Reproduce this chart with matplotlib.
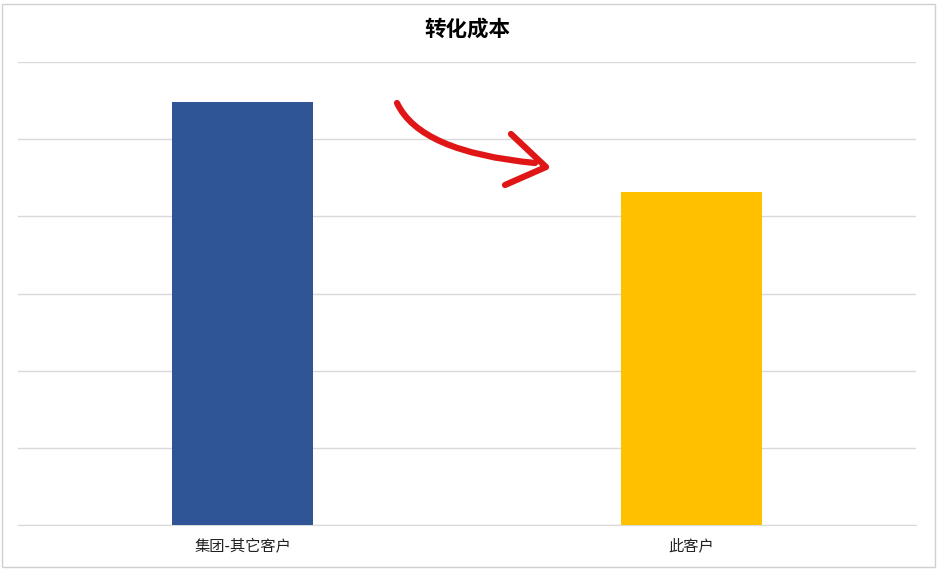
import matplotlib.pyplot as plt
from matplotlib.path import Path
from matplotlib.patches import PathPatch, Rectangle

plt.rcParams['font.family'] = ['Noto Sans CJK SC', 'DejaVu Sans']

# 数据
categories = ["集团-其它客户", "此客户"]
values = [5.48, 4.31]
colors = ["#2F5597", "#FFC000"]
title = "转化成本"

W, H = 938, 572
fig = plt.figure(figsize=(W / 100, H / 100), dpi=100)
ax = fig.add_axes([18 / W, 47 / H, 898 / W, 463 / H])

ax.bar(range(len(categories)), values, width=0.312, color=colors, zorder=3)
ax.set_xlim(-0.5, 1.5)
ax.set_ylim(0, 6)
ax.set_yticks(range(0, 7))
ax.set_yticklabels([])
ax.tick_params(axis='y', length=0)
ax.tick_params(axis='x', length=0, pad=9)
ax.set_xticks(range(len(categories)))
ax.set_xticklabels(categories, fontsize=11, color="#222222")
ax.grid(axis='y', color="#D9D9D9", linewidth=1, zorder=0)
for s in ["top", "left", "right"]:
    ax.spines[s].set_visible(False)
ax.spines["bottom"].set_color("#D9D9D9")

fig.text(0.5 - 2 / W, 1 - 29 / H, title, ha='center', va='center',
         fontsize=15.5, fontweight='bold')

# 外框
fig.patches.append(Rectangle((2 / W, 5 / H), 933 / W, 563 / H, transform=fig.transFigure,
                             fill=False, edgecolor="#D0D0D0", linewidth=1))


# 红色箭头 (像素坐标 -> figure 坐标)
def fp(x, y):
    return (x / W, 1 - y / H)


red = "#E01515"
curve = Path([fp(397, 103), fp(420, 152), fp(535, 163)],
             [Path.MOVETO, Path.CURVE3, Path.CURVE3])
fig.patches.append(PathPatch(curve, transform=fig.transFigure, fill=False,
                             edgecolor=red, linewidth=4.5, capstyle='round'))
head = Path([fp(511, 134), fp(546, 167), fp(505, 185)],
            [Path.MOVETO, Path.LINETO, Path.LINETO])
fig.patches.append(PathPatch(head, transform=fig.transFigure, fill=False,
                             edgecolor=red, linewidth=4.5, capstyle='round',
                             joinstyle='round'))

fig.savefig("out.png", dpi=100)
